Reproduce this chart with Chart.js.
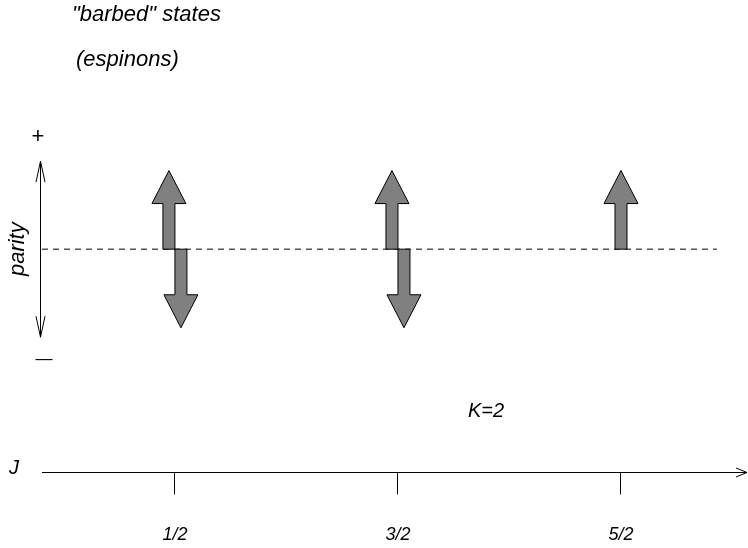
<!DOCTYPE html>
<html>
<head>
<meta charset="utf-8">
<script src="https://cdn.jsdelivr.net/npm/chart.js@4.4.1/dist/chart.umd.min.js"></script>
<style>
  html, body { margin: 0; padding: 0; background: #fff; }
  #wrap { width: 748px; height: 548px; position: relative; }
</style>
</head>
<body>
<div id="wrap"><canvas id="chart"></canvas></div>
<script>
// J values along the horizontal axis
const jValues = [0.5, 1.5, 2.5];
const jLabels = ['1/2', '3/2', '5/2'];
// parity of the barbed states at each J (null = no state)
const parityUp = [1, 1, 1];
const parityDown = [-1, -1, null];
// axis ranges
const jMin = -0.096, jMax = 3.056, dashEnd = 2.93;
const parityMin = -2.84, parityMax = 3.17, parityAxisLen = 1.12;

const FONT = '"Liberation Sans", Arial, Helvetica, sans-serif';

// draws one block arrow from the baseline to the state
function blockArrow(ctx, cx, y0, y1) {
    const sw = 6, hw = 17, hl = 33;
    const dir = y1 < y0 ? -1 : 1;
    const hb = y1 - dir * hl;
    ctx.beginPath();
    ctx.moveTo(cx - sw, y0);
    ctx.lineTo(cx - sw, hb);
    ctx.lineTo(cx - hw, hb);
    ctx.lineTo(cx, y1);
    ctx.lineTo(cx + hw, hb);
    ctx.lineTo(cx + sw, hb);
    ctx.lineTo(cx + sw, y0);
    ctx.closePath();
    ctx.fillStyle = '#808080';
    ctx.fill();
    ctx.strokeStyle = '#000';
    ctx.lineWidth = 1;
    ctx.stroke();
}

function openHead(ctx, x, y, dx, dy, len, half) {
    // dx,dy = unit direction of the arrow
    const bx = x - dx * len, by = y - dy * len;
    ctx.beginPath();
    ctx.moveTo(bx - dy * half, by + dx * half);
    ctx.lineTo(x, y);
    ctx.lineTo(bx + dy * half, by - dx * half);
    ctx.stroke();
}

const diagramPlugin = {
    id: 'diagram',
    afterDatasetsDraw(chart) {
        const ctx = chart.ctx;
        const ys = chart.scales.y;
        const area = chart.chartArea;
        const base = ys.getPixelForValue(0);
        const upMeta = chart.getDatasetMeta(1);
        const downMeta = chart.getDatasetMeta(2);
        ctx.save();
        jValues.forEach((j, i) => {
            const both = parityUp[i] != null && parityDown[i] != null;
            if (parityUp[i] != null) {
                const p = upMeta.data[i];
                blockArrow(ctx, p.x - (both ? 6 : 0), base, p.y);
            }
            if (parityDown[i] != null) {
                const p = downMeta.data[i];
                blockArrow(ctx, p.x + (both ? 6 : 0), base, p.y);
            }
        });

        // parity axis
        ctx.strokeStyle = '#000';
        ctx.lineWidth = 1;
        const ax = Math.round(area.left) - 1.5;
        const top = ys.getPixelForValue(parityAxisLen);
        const bot = ys.getPixelForValue(-parityAxisLen);
        ctx.beginPath();
        ctx.moveTo(ax, top);
        ctx.lineTo(ax, bot);
        ctx.stroke();
        openHead(ctx, ax, top, 0, -1, 21, 4.5);
        openHead(ctx, ax, bot, 0, 1, 21, 4.5);

        // J axis arrow head
        const jy = Math.round(area.bottom) + 0.5;
        openHead(ctx, area.right + 2, jy, 1, 0, 11, 4.5);

        // texts
        ctx.fillStyle = '#000';
        ctx.textBaseline = 'middle';
        ctx.textAlign = 'left';
        ctx.font = 'italic 22px ' + FONT;
        ctx.fillText('"barbed" states', 72, 15);
        ctx.fillText('(espinons)', 76, 60);
        ctx.font = 'italic 20px ' + FONT;
        ctx.fillText('K=2', 468, 411);
        ctx.fillText('J', 9, area.bottom - 4);
        ctx.save();
        ctx.translate(18, base);
        ctx.rotate(-Math.PI / 2);
        ctx.textAlign = 'center';
        ctx.font = 'italic 22px ' + FONT;
        ctx.fillText('parity', 0, 0);
        ctx.restore();
        ctx.font = '22px ' + FONT;
        ctx.textAlign = 'center';
        ctx.fillText('+', 38, 137);
        ctx.font = '17px ' + FONT;
        ctx.fillText('\u2014', 44, 359);
        ctx.restore();
    }
};

new Chart(document.getElementById('chart'), {
    type: 'scatter',
    data: {
        datasets: [
            {
                type: 'line',
                data: [{ x: jMin, y: 0 }, { x: dashEnd, y: 0 }],
                borderColor: '#000',
                borderWidth: 1,
                borderDash: [6, 5],
                pointRadius: 0
            },
            {
                data: jValues.map((j, i) => ({ x: j, y: parityUp[i] })),
                pointRadius: 0
            },
            {
                data: jValues.map((j, i) => ({ x: j, y: parityDown[i] })),
                pointRadius: 0
            }
        ]
    },
    options: {
        responsive: true,
        maintainAspectRatio: false,
        animation: false,
        events: [],
        layout: { padding: { left: 42, right: 3, top: 0, bottom: -28 } },
        plugins: { legend: { display: false }, tooltip: { enabled: false } },
        scales: {
            x: {
                type: 'linear',
                min: jMin,
                max: jMax,
                afterBuildTicks: axis => { axis.ticks = jValues.map(v => ({ value: v })); },
                border: { display: true, color: '#000', width: 1 },
                grid: { drawOnChartArea: false, drawTicks: true, tickLength: 22, color: '#000' },
                ticks: {
                    padding: 30,
                    color: '#000',
                    maxRotation: 0,
                    font: { family: FONT, size: 18, style: 'italic' },
                    callback: v => jLabels[jValues.indexOf(v)]
                }
            },
            y: { display: false, min: parityMin, max: parityMax }
        }
    },
    plugins: [diagramPlugin]
});
</script>
</body>
</html>
